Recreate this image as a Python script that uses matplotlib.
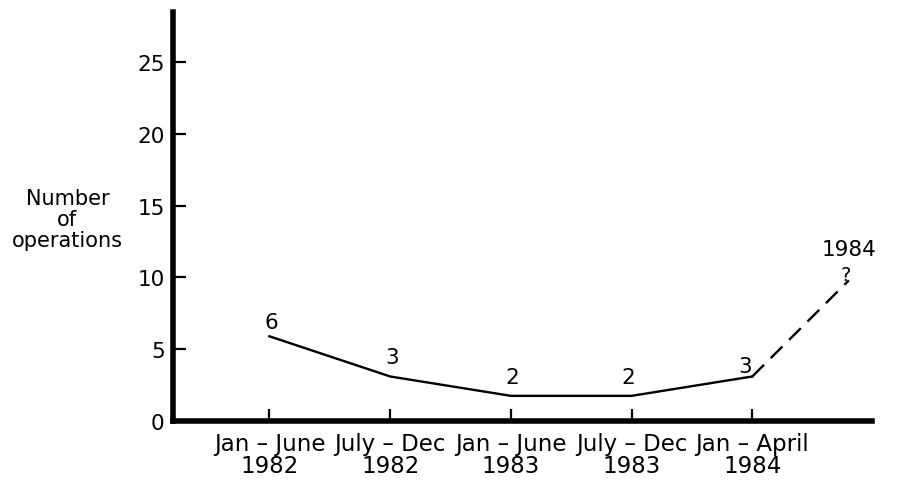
import matplotlib
matplotlib.use("Agg")
from matplotlib import pyplot as plt

# values
periods = ["Jan \u2013 June\n1982", "July \u2013 Dec\n1982", "Jan \u2013 June\n1983",
           "July \u2013 Dec\n1983", "Jan \u2013 April\n1984"]
operations = [5.9, 3.1, 1.75, 1.75, 3.1]
point_labels = ["6", "3", "2", "2", "3"]
forecast_x = [4, 4.8]
forecast_y = [3.1, 9.8]
yticks = [0, 5, 10, 15, 20, 25]

plt.rcParams['font.family'] = ['DejaVu Sans']

fig = plt.figure(figsize=(9.1, 4.85), dpi=100)
ax = fig.add_axes([0.19, 0.13, 0.768, 0.843])

x = list(range(len(periods)))
ax.plot(x, operations, color="black", lw=1.7, solid_joinstyle="round")
ax.plot(forecast_x, forecast_y, color="black", lw=1.7, dashes=(7, 4))

# number labels above the points (offsets in pixels)
offsets = [(2, 14), (2, 19), (1, 19), (-3, 19), (-7, 10)]
for xi, yi, lab, off in zip(x, operations, point_labels, offsets):
    ax.annotate(lab, (xi, yi), xytext=off, textcoords="offset pixels",
                ha="center", va="center", fontsize=15.5)

ax.annotate("1984", (forecast_x[1], forecast_y[1]), xytext=(0, 31),
            textcoords="offset pixels", ha="center", va="center", fontsize=15.5)
ax.annotate("?", (forecast_x[1], forecast_y[1]), xytext=(-3, 6),
            textcoords="offset pixels", ha="center", va="center", fontsize=14)

ax.set_xlim(-0.8, 4.99)
ax.set_ylim(0, 28.5)
ax.set_xticks(x)
ax.set_xticklabels(periods, fontsize=16.5, linespacing=0.95)
ax.set_yticks(yticks)
ax.set_yticklabels([str(v) for v in yticks], fontsize=15.5)

for side in ["top", "right"]:
    ax.spines[side].set_visible(False)
for side in ["left", "bottom"]:
    ax.spines[side].set_linewidth(4)
ax.tick_params(axis="both", direction="in", length=9, width=1.6)
ax.tick_params(axis="x", pad=8)
ax.tick_params(axis="y", pad=6)

fig.text(0.074, 0.546, "Number\nof\noperations", ha="center", va="center",
         fontsize=15, linespacing=1.05)

plt.savefig("out.png", dpi=100)
